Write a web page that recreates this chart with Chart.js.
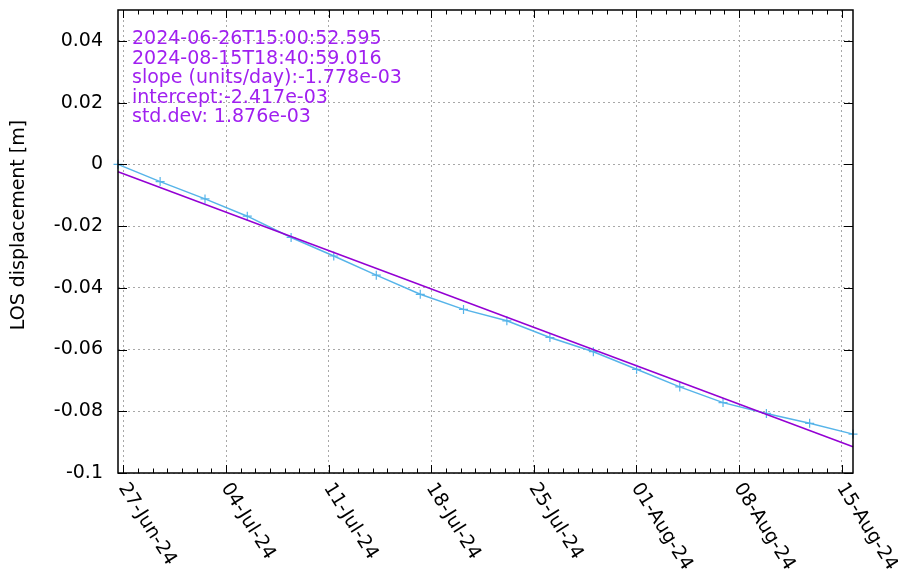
<!DOCTYPE html>
<html>
<head>
<meta charset="utf-8">
<script src="https://cdn.jsdelivr.net/npm/chart.js@4.4.1/dist/chart.umd.min.js"></script>
<style>
  html, body { margin: 0; padding: 0; background: #fff; }
  canvas { display: block; }
</style>
</head>
<body>
<canvas id="chart" width="898" height="573"></canvas>
<script>
// acquisition dates (UTC) and LOS displacement [m]
const dates = [
  '2024-06-26T15:00:52Z', '2024-06-29T12:00:00Z', '2024-07-02T13:30:00Z', '2024-07-05T10:45:00Z',
  '2024-07-08T10:30:00Z', '2024-07-11T08:20:00Z', '2024-07-14T06:00:00Z', '2024-07-17T06:00:00Z',
  '2024-07-20T04:50:00Z', '2024-07-23T03:50:00Z', '2024-07-26T02:20:00Z', '2024-07-29T01:30:00Z',
  '2024-08-01T00:15:00Z', '2024-08-03T23:00:00Z', '2024-08-06T21:50:00Z', '2024-08-09T20:50:00Z',
  '2024-08-12T19:40:00Z', '2024-08-15T18:40:59Z'
];
const losValues = [
  0.0000, -0.0056, -0.0112, -0.0168, -0.0237, -0.0297, -0.0359, -0.0421,
  -0.0470, -0.0507, -0.0561, -0.0607, -0.0664, -0.0721, -0.0772, -0.0807,
  -0.0839, -0.0874
];
// linear fit end points
const fitDates = ['2024-06-26T15:00:52Z', '2024-08-15T18:40:59Z'];
const fitValues = [-0.0024, -0.0915];

const xTickDates = ['2024-06-27', '2024-07-04', '2024-07-11', '2024-07-18',
  '2024-07-25', '2024-08-01', '2024-08-08', '2024-08-15'];
const xTickLabels = ['27-Jun-24', '04-Jul-24', '11-Jul-24', '18-Jul-24',
  '25-Jul-24', '01-Aug-24', '08-Aug-24', '15-Aug-24'];
const yTicks = [-0.1, -0.08, -0.06, -0.04, -0.02, 0, 0.02, 0.04];
const yTickLabels = ['-0.1', '-0.08', '-0.06', '-0.04', '-0.02', '0', '0.02', '0.04'];
const yMin = -0.1, yMax = 0.05;

const infoLines = [
  '2024-06-26T15:00:52.595',
  '2024-08-15T18:40:59.016',
  'slope (units/day):-1.778e-03',
  'intercept:-2.417e-03',
  'std.dev: 1.876e-03'
];
const yTitle = 'LOS displacement [m]';

const DAY = 86400000;
const toMs = (s) => Date.parse(s.length === 10 ? s + 'T00:00:00Z' : s);
const xTickMs = xTickDates.map(toMs);

const FONT = 'DejaVu Sans';
Chart.defaults.font.family = FONT;

// gnuplot-like frame, inward ticks, rotated date labels and text block
const framePlugin = {
  id: 'frame',
  afterDraw(chart) {
    const { ctx, scales } = chart;
    const xs = scales.x, ys = scales.y;
    const a = { left: xs.left, right: xs.right, top: ys.top, bottom: ys.bottom };
    ctx.save();
    ctx.strokeStyle = '#000';
    ctx.lineWidth = 1;
    ctx.beginPath();
    // minor daily ticks
    for (let t = xTickMs[0] - DAY; t <= xs.max; t += DAY) {
      if (t < xs.min) continue;
      const px = Math.round(xs.getPixelForValue(t)) + 0.5;
      const len = xTickMs.includes(t) ? 8 : 4.5;
      ctx.moveTo(px, a.bottom); ctx.lineTo(px, a.bottom - len);
      ctx.moveTo(px, a.top); ctx.lineTo(px, a.top + len);
    }
    yTicks.forEach(v => {
      const py = Math.round(ys.getPixelForValue(v)) + 0.5;
      ctx.moveTo(a.left, py); ctx.lineTo(a.left + 9, py);
      ctx.moveTo(a.right, py); ctx.lineTo(a.right - 9, py);
    });
    ctx.stroke();
    ctx.lineWidth = 1.5;
    ctx.strokeRect(a.left, a.top, a.right - a.left, a.bottom - a.top);

    // x tick labels rotated clockwise
    ctx.fillStyle = '#000';
    ctx.font = '19px "' + FONT + '"';
    ctx.textAlign = 'left';
    ctx.textBaseline = 'middle';
    xTickMs.forEach((t, i) => {
      const px = xs.getPixelForValue(t);
      ctx.save();
      ctx.translate(px - 1, a.bottom + 12);
      ctx.rotate(58 * Math.PI / 180);
      ctx.fillText(xTickLabels[i], 0, 0);
      ctx.restore();
    });

    // y axis title
    ctx.save();
    ctx.translate(19, 225);
    ctx.rotate(-Math.PI / 2);
    ctx.textAlign = 'center';
    ctx.font = '19px "' + FONT + '"';
    ctx.fillText(yTitle, 0, 0);
    ctx.restore();

    // fit info text
    ctx.fillStyle = '#a020f0';
    ctx.font = '19px "' + FONT + '"';
    infoLines.forEach((s, i) => ctx.fillText(s, 132, 39.5 + i * 19.5));
    ctx.restore();
  }
};

new Chart(document.getElementById('chart'), {
  type: 'line',
  data: {
    datasets: [
      {
        label: 'fit',
        data: fitDates.map((d, i) => ({ x: toMs(d), y: fitValues[i] })),
        borderColor: '#9400d3',
        borderWidth: 1.5,
        pointRadius: 0,
        tension: 0,
        clip: false
      },
      {
        label: 'LOS',
        data: dates.map((d, i) => ({ x: toMs(d), y: losValues[i] })),
        borderColor: '#56b4e9',
        borderWidth: 1.5,
        pointStyle: 'cross',
        pointRadius: 4.5,
        pointBorderWidth: 1.2,
        pointBorderColor: '#56b4e9',
        tension: 0,
        clip: false
      }
    ]
  },
  options: {
    responsive: false,
    devicePixelRatio: 1,
    animation: false,
    layout: { padding: { top: 10, right: 45, left: 0, bottom: 0 } },
    plugins: { legend: { display: false }, tooltip: { enabled: false } },
    scales: {
      x: {
        type: 'linear',
        min: toMs(dates[0]),
        max: toMs(dates[dates.length - 1]),
        afterBuildTicks: (scale) => { scale.ticks = xTickMs.map(v => ({ value: v })); },
        afterFit: (scale) => { scale.height = 100; scale.paddingLeft = 0; scale.paddingRight = 0; },
        ticks: { display: false },
        grid: { color: '#a8a8a8', lineWidth: 1, drawTicks: false },
        border: { display: false, dash: [2, 3] }
      },
      y: {
        type: 'linear',
        min: yMin,
        max: yMax,
        afterBuildTicks: (scale) => { scale.ticks = yTicks.map(v => ({ value: v })); },
        afterFit: (scale) => { scale.width = 118; scale.paddingTop = 0; scale.paddingBottom = 0; },
        ticks: {
          padding: 15,
          color: '#000',
          font: { size: 19 },
          callback: (v, i) => yTickLabels[i]
        },
        grid: { color: '#a8a8a8', lineWidth: 1, drawTicks: false },
        border: { display: false, dash: [2, 3] }
      }
    }
  },
  plugins: [framePlugin]
});
</script>
</body>
</html>
